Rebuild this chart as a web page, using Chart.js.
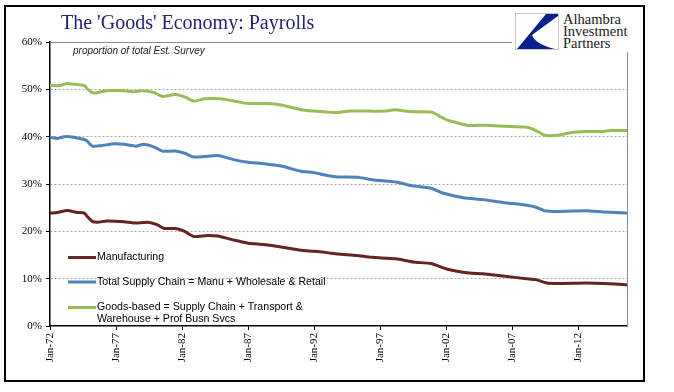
<!DOCTYPE html>
<html>
<head>
<meta charset="utf-8">
<script src="https://cdn.jsdelivr.net/npm/chart.js@4"></script>
<style>
  html, body { margin: 0; padding: 0; background: #fff; }
  #wrap { position: relative; width: 674px; height: 392px; overflow: hidden; }
  #frame { position: absolute; left: 4px; top: 5px; width: 637px; height: 373px; border: 2px solid #000; }
  canvas { position: absolute; left: 0; top: 0; }
  #logo { position: absolute; left: 512px; top: 8px; width: 126px; height: 44px; background: #fff; }
  #logo svg { position: absolute; left: 3px; top: 5px; }
  #logo .txt { position: absolute; left: 51px; top: 5px; font-family: "Liberation Serif", serif; font-size: 14.5px; line-height: 12px; color: #1a1a1a; }
</style>
</head>
<body>
<div id="wrap">
  <div id="frame"></div>
  <canvas id="chart" width="674" height="392"></canvas>
  <div id="logo">
    <svg width="44" height="37" viewBox="0 0 44 37">
      <rect x="0.5" y="0.5" width="43" height="36" fill="#fff" stroke="#c8c8c8"/>
      <path d="M43 1 L31 1 L2 36 L40 36 Q20 31 17 22 L43 3 Z" fill="#0b1f8f"/>
    </svg>
    <div class="txt">Alhambra<br>Investment<br>Partners</div>
  </div>
</div>
<script>
// share of total establishment-survey payrolls, in %
const titleText = "The 'Goods' Economy: Payrolls";
const subtitleText = "proportion of total Est. Survey";
const seriesNames = [
  "Manufacturing",
  "Total Supply Chain = Manu + Wholesale & Retail",
  ["Goods-based = Supply Chain + Transport &", "Warehouse + Prof Busn Svcs"]
];
const tickYears = [1972, 1977, 1982, 1987, 1992, 1997, 2002, 2007, 2012];
const yTicks = [0, 10, 20, 30, 40, 50, 60];

const manuYears = [1972.0, 1972.55, 1973.3, 1974.07, 1974.6, 1974.8, 1975.2, 1975.6, 1976.3, 1977.6,
  1978.4, 1979.4, 1980.1, 1980.65, 1981.5, 1982.2, 1982.9, 1983.9, 1984.7, 1986.0,
  1987.0, 1988.2, 1989.5, 1991.0, 1992.0, 1993.0, 1993.8, 1995.2, 1996.4, 1998.2,
  1999.5, 2000.85, 2002.1, 2003.75, 2004.8, 2006.3, 2008.1, 2008.8, 2009.6, 2010.5,
  2012.6, 2013.9, 2015.65];
const manuShare = [23.85, 24.0, 24.4, 24.0, 23.85, 23.2, 22.1, 21.9, 22.2, 22.05,
  21.75, 21.9, 21.4, 20.6, 20.6, 20.0, 18.9, 19.1, 19.0, 18.1,
  17.5, 17.2, 16.7, 16.0, 15.8, 15.5, 15.2, 14.9, 14.5, 14.2,
  13.5, 13.2, 12.0, 11.2, 11.05, 10.55, 10.0, 9.8, 9.1, 9.0,
  9.1, 9.0, 8.7];

const supplyYears = [1972.0, 1972.55, 1973.06, 1973.8, 1974.6, 1974.8, 1975.2, 1975.85, 1976.85, 1977.6,
  1978.5, 1979.1, 1979.9, 1980.5, 1981.5, 1982.2, 1982.9, 1983.7, 1984.7, 1986.0,
  1987.0, 1988.2, 1989.5, 1991.0, 1992.0, 1993.0, 1993.8, 1995.4, 1996.4, 1998.2,
  1999.5, 2000.85, 2001.75, 2003.3, 2004.8, 2006.3, 2008.1, 2008.8, 2009.45, 2010.5,
  2012.6, 2013.9, 2015.65];
const supplyShare = [39.9, 39.6, 40.0, 39.9, 39.4, 39.1, 38.0, 38.1, 38.5, 38.4,
  38.0, 38.4, 37.8, 36.95, 36.95, 36.5, 35.7, 35.8, 36.0, 35.1,
  34.6, 34.3, 33.8, 32.7, 32.4, 31.8, 31.5, 31.4, 30.9, 30.4,
  29.6, 29.1, 28.1, 27.1, 26.7, 26.1, 25.5, 25.1, 24.35, 24.2,
  24.35, 24.1, 23.85];

const goodsYears = [1972.0, 1972.8, 1973.2, 1973.8, 1974.6, 1974.8, 1975.2, 1975.6, 1976.3, 1977.6,
  1978.4, 1979.0, 1979.9, 1980.5, 1981.5, 1982.2, 1982.9, 1983.7, 1984.9, 1986.0,
  1987.0, 1988.5, 1989.5, 1991.0, 1992.0, 1993.0, 1993.8, 1994.7, 1996.2, 1997.4,
  1998.1, 1999.2, 2000.9, 2001.5, 2002.0, 2002.75, 2003.6, 2005.0, 2006.5, 2008.1,
  2008.8, 2009.45, 2010.5, 2011.5, 2012.6, 2013.9, 2014.4, 2015.65];
const goodsShare = [50.8, 50.8, 51.2, 51.1, 50.8, 50.2, 49.3, 49.3, 49.7, 49.7,
  49.5, 49.7, 49.3, 48.5, 48.9, 48.4, 47.5, 48.0, 48.0, 47.5,
  47.0, 47.0, 46.7, 45.7, 45.4, 45.2, 45.1, 45.4, 45.4, 45.4,
  45.7, 45.3, 45.2, 44.3, 43.6, 43.0, 42.4, 42.4, 42.2, 42.0,
  41.3, 40.3, 40.3, 40.9, 41.1, 41.1, 41.3, 41.3];

const colors = ["#632523", "#4f81bd", "#9bbb59"];

const toPoints = (xs, ys) => xs.map((x, i) => ({ x: x, y: ys[i] }));

// titles, plot border and the in-plot legend
const decor = {
  id: "decor",
  beforeDatasetsDraw(chart) {
    const { ctx, chartArea: a } = chart;
    ctx.save();
    ctx.strokeStyle = "#8c8c8c";
    ctx.lineWidth = 1;
    ctx.beginPath();
    ctx.moveTo(a.left, a.top + 0.5);
    ctx.lineTo(a.right + 0.5, a.top + 0.5);
    ctx.lineTo(a.right + 0.5, a.bottom);
    ctx.stroke();
    ctx.restore();
  },
  afterDraw(chart) {
    const { ctx } = chart;
    ctx.save();
    ctx.fillStyle = "#1f1f78";
    ctx.font = "20px 'Liberation Serif'";
    ctx.textBaseline = "alphabetic";
    ctx.fillText(titleText, 61, 29);

    ctx.fillStyle = "#222";
    ctx.font = "italic 10px 'Liberation Sans'";
    ctx.fillText(subtitleText, 73, 54);

    ctx.font = "10.6px 'Liberation Sans'";
    ctx.textBaseline = "middle";
    const rowY = [257.5, 282, 307.5];
    chart.data.datasets.forEach((ds, i) => {
      ctx.strokeStyle = ds.borderColor;
      ctx.lineWidth = 3;
      ctx.beginPath();
      ctx.moveTo(68, rowY[i]);
      ctx.lineTo(96, rowY[i]);
      ctx.stroke();
      ctx.fillStyle = "#000";
      const lines = Array.isArray(seriesNames[i]) ? seriesNames[i] : [seriesNames[i]];
      lines.forEach((t, j) => ctx.fillText(t, 97, rowY[i] + j * 12));
    });
    ctx.restore();
  }
};

new Chart(document.getElementById("chart"), {
  type: "line",
  data: {
    datasets: [
      { label: "Manufacturing", data: toPoints(manuYears, manuShare), borderColor: colors[0] },
      { label: "Total Supply Chain", data: toPoints(supplyYears, supplyShare), borderColor: colors[1] },
      { label: "Goods-based", data: toPoints(goodsYears, goodsShare), borderColor: colors[2] }
    ]
  },
  options: {
    responsive: false,
    animation: false,
    layout: { padding: { top: 42, right: 47, left: 0, bottom: 0 } },
    elements: {
      point: { radius: 0 },
      line: { borderWidth: 3, tension: 0.2, borderCapStyle: "round" }
    },
    plugins: { legend: { display: false }, tooltip: { enabled: false } },
    scales: {
      x: {
        type: "linear",
        min: 1972,
        max: 2015.7,
        afterBuildTicks: (s) => { s.ticks = tickYears.map(v => ({ value: v })); },
        afterFit: (s) => { s.height = 66; },
        grid: { drawOnChartArea: false, drawTicks: true, tickLength: 4, tickColor: "#000" },
        border: { color: "#000", width: 1.5 },
        ticks: {
          minRotation: 90, maxRotation: 90, padding: 3, autoSkip: false,
          color: "#000",
          font: { family: "Liberation Serif", size: 11 },
          callback: (v) => "Jan-" + String(v).slice(2)
        }
      },
      y: {
        min: 0,
        max: 60,
        afterBuildTicks: (s) => { s.ticks = yTicks.map(v => ({ value: v })); },
        afterFit: (s) => { s.width = 50; },
        grid: {
          color: (c) => (c.tick && (c.tick.value === 0 || c.tick.value === 60)) ? "rgba(0,0,0,0)" : "#a6a6a6",
          tickColor: "#000",
          tickLength: 4,
          lineWidth: 1
        },
        border: { color: "#000", width: 1.5, dash: [2, 2] },
        ticks: {
          padding: 4,
          color: "#000",
          font: { family: "Liberation Serif", size: 11 },
          callback: (v) => v + "%"
        }
      }
    }
  },
  plugins: [decor]
});
</script>
</body>
</html>
